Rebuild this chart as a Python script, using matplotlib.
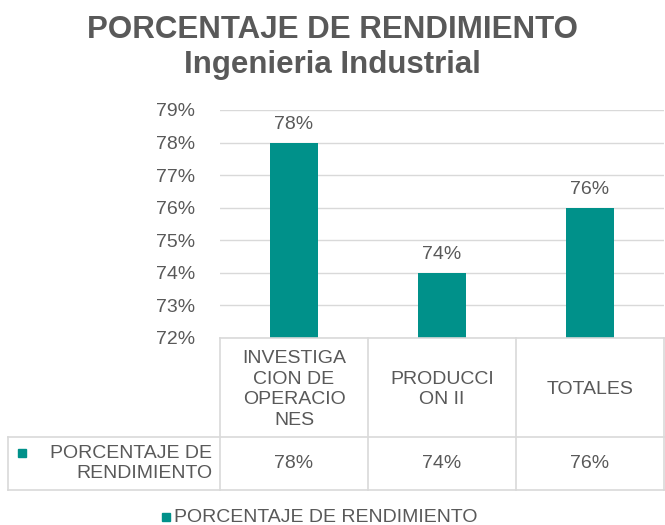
import matplotlib.pyplot as plt
from matplotlib.lines import Line2D
from matplotlib.patches import Rectangle
from matplotlib.ticker import FuncFormatter

categorias = ['INVESTIGA\nCION DE\nOPERACIO\nNES', 'PRODUCCI\nON II', 'TOTALES']
valores = [78, 74, 76]
serie = 'PORCENTAJE DE RENDIMIENTO'
serie_tabla = 'PORCENTAJE DE\nRENDIMIENTO'

verde = '#00918A'
gris = '#595959'
linea = '#D9D9D9'

plt.rcParams['font.family'] = ['Liberation Sans', 'DejaVu Sans']

W, H = 665, 525
fig = plt.figure(figsize=(W / 100, H / 100), dpi=100)


def fx(px):
    return px / W


def fy(py):
    return 1 - py / H


# zona del grafico (en pixeles)
x0, x1 = 220, 664
y_top, y_bot = 110, 338
ax = fig.add_axes([fx(x0), fy(y_bot), fx(x1 - x0), (y_bot - y_top) / H])

pos = range(len(valores))
barras = ax.bar(pos, valores, width=0.32, color=verde, zorder=3)
for b, v in zip(barras, valores):
    ax.text(b.get_x() + b.get_width() / 2, v + 0.3, '%d%%' % v,
            ha='center', va='bottom', fontsize=14, color=gris)

ax.set_xlim(-0.5, len(valores) - 0.5)
ax.set_ylim(72, 79)
ax.set_yticks(range(72, 80))
ax.yaxis.set_major_formatter(FuncFormatter(lambda v, p: '%d%%' % v))
ax.tick_params(axis='y', length=0, labelsize=14, labelcolor=gris, pad=18)
ax.set_xticks([])
ax.grid(axis='y', color=linea, linewidth=1, zorder=0)
for s in ax.spines.values():
    s.set_visible(False)

# titulo
fig.text(0.5, fy(30), 'PORCENTAJE DE RENDIMIENTO', ha='center', va='center',
         fontsize=22.5, fontweight='bold', color=gris)
fig.text(0.5, fy(65), 'Ingenieria Industrial', ha='center', va='center',
         fontsize=22.5, fontweight='bold', color=gris)

# tabla de datos
t_top, t_mid, t_bot = 338, 437, 490
t_left = 8
ancho = (x1 - x0) / len(valores)
bordes = [x0 + i * ancho for i in range(len(valores) + 1)]


def seg(xa, ya, xb, yb):
    fig.add_artist(Line2D([fx(xa), fx(xb)], [fy(ya), fy(yb)],
                          color=linea, linewidth=1.2))


seg(x0, t_top, x1, t_top)
seg(t_left, t_mid, x1, t_mid)
seg(t_left, t_bot, x1, t_bot)
seg(t_left, t_mid, t_left, t_bot)
for bx in bordes:
    seg(bx, t_top, bx, t_bot)

for i, (c, v) in enumerate(zip(categorias, valores)):
    cx = fx((bordes[i] + bordes[i + 1]) / 2)
    fig.text(cx, fy((t_top + t_mid) / 2 + 2), c, ha='center', va='center',
             fontsize=14, color=gris, linespacing=1.3)
    fig.text(cx, fy((t_mid + t_bot) / 2), '%d%%' % v, ha='center',
             va='center', fontsize=14, color=gris)

# clave de la serie en la tabla
fig.add_artist(Rectangle((fx(18), fy(457)), fx(8), 8 / H, color=verde,
                         transform=fig.transFigure))
fig.text(fx(212), fy((t_mid + t_bot) / 2), serie_tabla, ha='right',
         va='center', fontsize=14, color=gris, linespacing=1.3)

# leyenda inferior
fig.add_artist(Rectangle((fx(162), fy(521)), fx(8), 8 / H, color=verde,
                         transform=fig.transFigure))
fig.text(fx(174), fy(517), serie, ha='left', va='center',
         fontsize=14, color=gris)

fig.savefig('out.png', dpi=100)
